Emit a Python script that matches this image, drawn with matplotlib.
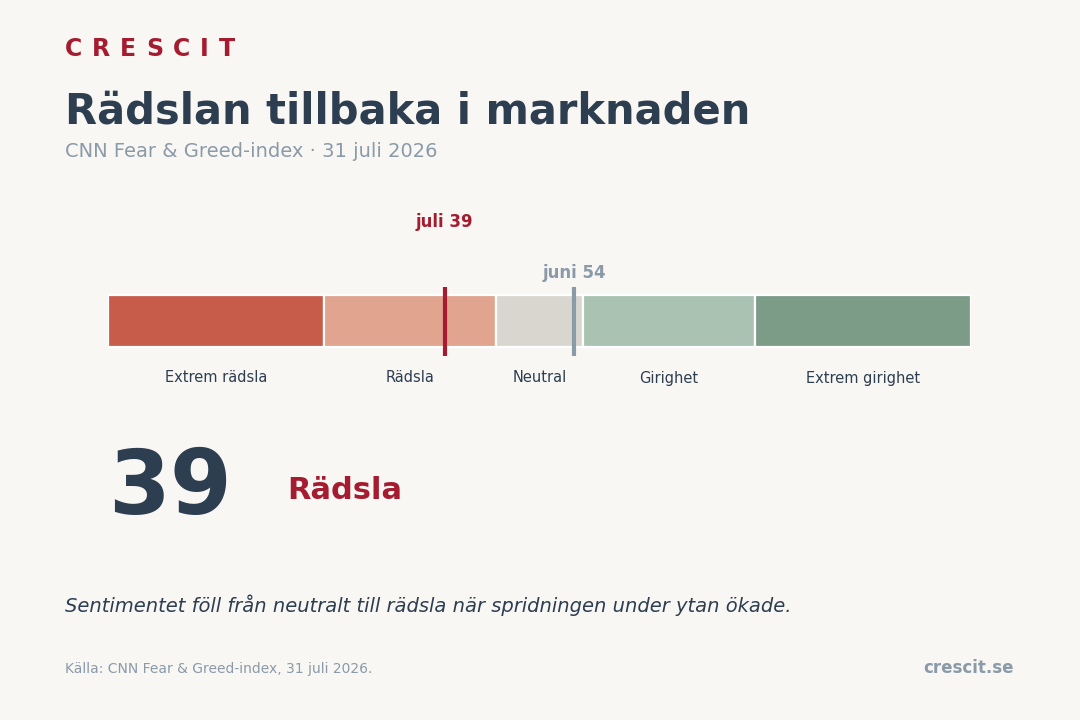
import matplotlib
matplotlib.use("Agg")
import matplotlib.pyplot as plt

# --- data ---
zone_names = ["Extrem rädsla", "Rädsla", "Neutral", "Girighet", "Extrem girighet"]
zone_start = [0, 25, 45, 55, 75]
zone_end = [25, 45, 55, 75, 100]
zone_colors = ["#c85c4a", "#e0a48f", "#d9d6cf", "#a9c2b1", "#7c9c88"]

current_label = "juli"
current_value = 39
current_zone = "Rädsla"
prev_label = "juni"
prev_value = 54

BG = "#f9f7f4"
DARK = "#2c3e50"
RED = "#a51c30"
GRAY = "#8a9aa8"

W, H = 1080, 720
fig = plt.figure(figsize=(W / 100, H / 100), dpi=100, facecolor=BG)
renderer = fig.canvas.get_renderer()


def px(x, y):
    return x / W, 1 - y / H


# header: letter-spaced brand
x = 65
for ch in "CRESCIT":
    t = fig.text(*px(x, 56), ch, fontsize=17, fontweight="bold", color=RED, va="baseline")
    x += t.get_window_extent(renderer).width + 9.8

fig.text(*px(65, 124), "Rädslan tillbaka i marknaden", fontsize=30, fontweight="bold", color=DARK, va="baseline")
fig.text(*px(65, 157), "CNN Fear & Greed-index · 31 juli 2026", fontsize=14, color=GRAY, va="baseline")

# --- gauge bar ---
ax = fig.add_axes([108 / W, 1 - 361 / H, 863 / W, 80 / H])
ax.set_facecolor("none")
ax.set_xlim(0, 100)
ax.set_ylim(0, 80)
ax.axis("off")

widths = [e - s for s, e in zip(zone_start, zone_end)]
ax.barh(40, widths, left=zone_start, height=51, color=zone_colors,
        edgecolor="white", linewidth=1.6)

ax.vlines(current_value, 5, 74, color=RED, linewidth=3)
ax.vlines(prev_value, 5, 74, color=GRAY, linewidth=3)

ax.text(current_value, 134, f"{current_label} {current_value}", ha="center", va="baseline",
        fontsize=12, fontweight="bold", color=RED, clip_on=False)
ax.text(prev_value, 83, f"{prev_label} {prev_value}", ha="center", va="baseline",
        fontsize=12, fontweight="bold", color=GRAY, clip_on=False)

for name, s, e in zip(zone_names, zone_start, zone_end):
    ax.text((s + e) / 2, -17, name, ha="center", va="center", fontsize=10.5,
            color=DARK, clip_on=False)

# big number
fig.text(*px(108, 514), str(current_value), fontsize=64, fontweight="bold", color=DARK, va="baseline")
fig.text(*px(287, 499), current_zone, fontsize=22, fontweight="bold", color=RED, va="baseline")

fig.text(*px(65, 612), "Sentimentet föll från neutralt till rädsla när spridningen under ytan ökade.",
         fontsize=14, fontstyle="italic", color=DARK, va="baseline")

# footer
fig.text(*px(65, 673), "Källa: CNN Fear & Greed-index, 31 juli 2026.", fontsize=10, color=GRAY, va="baseline")
fig.text(*px(1014, 673), "crescit.se", fontsize=12, fontweight="bold", color=GRAY, va="baseline", ha="right")

fig.savefig("out.png", dpi=100, facecolor=BG)
